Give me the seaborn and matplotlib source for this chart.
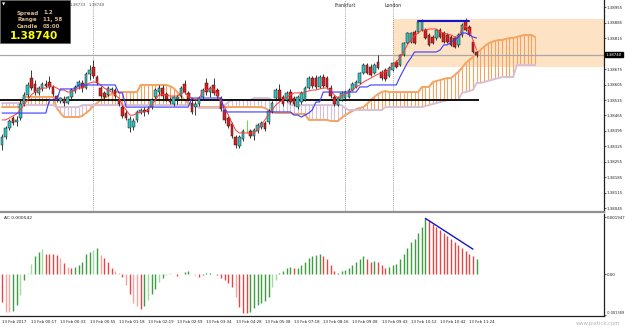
import numpy as np
import pandas as pd
import matplotlib
matplotlib.use("Agg")
import matplotlib.pyplot as plt
import matplotlib.transforms as mtransforms
from matplotlib.patches import Rectangle
import seaborn as sns

# ---------------- data ----------------
open_ = [1.38332,1.38368,1.38408,1.38454,1.38436,1.38454,1.38517,1.38558,1.38634,1.38607,
         1.38567,1.38585,1.38607,1.38616,1.38594,1.38553,1.38530,1.38540,1.38521,1.38549,
         1.38576,1.38594,1.38612,1.38589,1.38652,1.38684,1.38639,1.38589,1.38567,1.38558,
         1.38580,1.38580,1.38535,1.38503,1.38476,1.38408,1.38413,1.38445,1.38476,1.38490,
         1.38494,1.38503,1.38549,1.38571,1.38589,1.38562,1.38535,1.38517,1.38540,1.38553,
         1.38607,1.38567,1.38521,1.38503,1.38517,1.38549,1.38612,1.38571,1.38603,1.38580,
         1.38544,1.38490,1.38454,1.38427,1.38368,1.38327,1.38359,1.38417,1.38395,1.38372,
         1.38395,1.38413,1.38431,1.38436,1.38481,1.38544,1.38580,1.38549,1.38535,1.38571,
         1.38544,1.38503,1.38526,1.38535,1.38589,1.38634,1.38634,1.38594,1.38639,1.38634,
         1.38589,1.38549,1.38512,1.38535,1.38544,1.38549,1.38580,1.38594,1.38612,1.38657,
         1.38693,1.38684,1.38657,1.38707,1.38662,1.38671,1.38643,1.38671,1.38707,1.38693,
         1.38738,1.38793,1.38797,1.38842,1.38842,1.38851,1.38851,1.38829,1.38820,1.38815,
         1.38851,1.38838,1.38829,1.38820,1.38815,1.38784,1.38829,1.38892,1.38865,1.38797,
         1.38752]
high = [1.38381,1.38417,1.38449,1.38463,1.38463,1.38535,1.38571,1.38616,1.38671,1.38625,
        1.38598,1.38616,1.38625,1.38643,1.38603,1.38558,1.38549,1.38553,1.38553,1.38589,
        1.38603,1.38625,1.38625,1.38662,1.38693,1.38716,1.38648,1.38598,1.38576,1.38598,
        1.38594,1.38589,1.38544,1.38512,1.38490,1.38463,1.38454,1.38490,1.38499,1.38503,
        1.38508,1.38544,1.38589,1.38603,1.38603,1.38571,1.38549,1.38553,1.38558,1.38598,
        1.38625,1.38576,1.38535,1.38530,1.38553,1.38589,1.38634,1.38598,1.38634,1.38589,
        1.38553,1.38499,1.38463,1.38436,1.38377,1.38377,1.38404,1.38445,1.38404,1.38408,
        1.38431,1.38440,1.38440,1.38494,1.38530,1.38589,1.38607,1.38558,1.38576,1.38585,
        1.38553,1.38558,1.38576,1.38598,1.38643,1.38643,1.38648,1.38648,1.38652,1.38643,
        1.38603,1.38558,1.38553,1.38576,1.38580,1.38589,1.38616,1.38625,1.38662,1.38702,
        1.38702,1.38698,1.38702,1.38738,1.38671,1.38680,1.38689,1.38707,1.38716,1.38743,
        1.38797,1.38842,1.38842,1.38851,1.38892,1.38901,1.38860,1.38838,1.38829,1.38856,
        1.38860,1.38847,1.38838,1.38829,1.38824,1.38838,1.38883,1.38906,1.38874,1.38806,
        1.38756]
low = [1.38309,1.38359,1.38399,1.38422,1.38417,1.38445,1.38508,1.38549,1.38580,1.38558,
       1.38558,1.38576,1.38589,1.38585,1.38553,1.38526,1.38521,1.38508,1.38517,1.38540,
       1.38567,1.38585,1.38571,1.38585,1.38625,1.38634,1.38603,1.38544,1.38540,1.38553,
       1.38571,1.38544,1.38508,1.38454,1.38445,1.38390,1.38399,1.38436,1.38472,1.38463,
       1.38472,1.38494,1.38540,1.38558,1.38540,1.38530,1.38517,1.38508,1.38517,1.38544,
       1.38562,1.38530,1.38472,1.38467,1.38508,1.38540,1.38558,1.38549,1.38558,1.38544,
       1.38485,1.38431,1.38408,1.38363,1.38318,1.38318,1.38350,1.38386,1.38363,1.38354,
       1.38386,1.38404,1.38395,1.38427,1.38476,1.38540,1.38530,1.38508,1.38526,1.38517,
       1.38508,1.38494,1.38517,1.38530,1.38585,1.38589,1.38585,1.38589,1.38589,1.38585,
       1.38544,1.38508,1.38508,1.38530,1.38540,1.38544,1.38576,1.38589,1.38607,1.38652,
       1.38652,1.38643,1.38652,1.38675,1.38625,1.38621,1.38639,1.38666,1.38680,1.38689,
       1.38734,1.38788,1.38793,1.38788,1.38838,1.38847,1.38811,1.38779,1.38788,1.38806,
       1.38815,1.38793,1.38793,1.38779,1.38770,1.38775,1.38820,1.38847,1.38824,1.38747,
       1.38729]
close = [1.38368,1.38408,1.38440,1.38431,1.38445,1.38517,1.38558,1.38603,1.38589,1.38571,
         1.38589,1.38607,1.38598,1.38594,1.38562,1.38535,1.38544,1.38521,1.38549,1.38580,
         1.38594,1.38616,1.38589,1.38652,1.38671,1.38643,1.38612,1.38553,1.38549,1.38589,
         1.38585,1.38553,1.38517,1.38463,1.38454,1.38449,1.38440,1.38481,1.38490,1.38481,
         1.38481,1.38535,1.38580,1.38589,1.38553,1.38540,1.38526,1.38549,1.38549,1.38589,
         1.38571,1.38540,1.38481,1.38517,1.38544,1.38580,1.38571,1.38589,1.38567,1.38553,
         1.38494,1.38445,1.38417,1.38372,1.38332,1.38368,1.38395,1.38417,1.38372,1.38399,
         1.38422,1.38431,1.38404,1.38485,1.38521,1.38580,1.38540,1.38517,1.38567,1.38526,
         1.38517,1.38549,1.38567,1.38589,1.38634,1.38598,1.38594,1.38639,1.38598,1.38594,
         1.38553,1.38517,1.38544,1.38567,1.38571,1.38580,1.38607,1.38616,1.38657,1.38693,
         1.38657,1.38648,1.38693,1.38680,1.38634,1.38630,1.38680,1.38702,1.38684,1.38738,
         1.38793,1.38838,1.38838,1.38793,1.38888,1.38892,1.38815,1.38784,1.38793,1.38851,
         1.38820,1.38797,1.38797,1.38784,1.38775,1.38829,1.38874,1.38851,1.38833,1.38752,
         1.38740]

tenkan = [1.38445,1.38445,1.38454,1.38463,1.38472,1.38490,1.38512,1.38535,1.38558,1.38571,
          1.38580,1.38589,1.38589,1.38598,1.38598,1.38589,1.38580,1.38580,1.38571,1.38571,
          1.38580,1.38589,1.38589,1.38603,1.38612,1.38616,1.38616,1.38603,1.38589,1.38580,
          1.38571,1.38558,1.38544,1.38512,1.38490,1.38467,1.38467,1.38476,1.38481,1.38481,
          1.38490,1.38512,1.38535,1.38558,1.38558,1.38558,1.38553,1.38553,1.38553,1.38562,
          1.38571,1.38553,1.38544,1.38535,1.38544,1.38571,1.38580,1.38585,1.38585,1.38558,
          1.38526,1.38503,1.38467,1.38431,1.38399,1.38386,1.38386,1.38386,1.38386,1.38386,
          1.38399,1.38422,1.38445,1.38467,1.38490,1.38512,1.38526,1.38535,1.38549,1.38558,
          1.38567,1.38567,1.38567,1.38571,1.38576,1.38580,1.38580,1.38585,1.38589,1.38589,
          1.38580,1.38558,1.38544,1.38553,1.38562,1.38567,1.38580,1.38594,1.38603,1.38616,
          1.38625,1.38634,1.38643,1.38652,1.38657,1.38662,1.38671,1.38693,1.38707,1.38725,
          1.38752,1.38784,1.38806,1.38824,1.38838,1.38851,1.38851,1.38856,1.38856,1.38856,
          1.38842,1.38838,1.38833,1.38829,1.38820,1.38815,1.38860,1.38870,1.38851,1.38806,
          1.38761]
kijun = [1.38476,1.38476,1.38476,1.38476,1.38476,1.38476,1.38476,1.38476,1.38476,1.38476,
         1.38476,1.38476,1.38476,1.38535,1.38535,1.38535,1.38585,1.38585,1.38585,1.38585,
         1.38585,1.38603,1.38603,1.38603,1.38603,1.38603,1.38603,1.38603,1.38603,1.38603,
         1.38603,1.38603,1.38567,1.38567,1.38503,1.38503,1.38503,1.38503,1.38503,1.38503,
         1.38503,1.38503,1.38503,1.38503,1.38503,1.38503,1.38503,1.38503,1.38503,1.38503,
         1.38503,1.38503,1.38544,1.38544,1.38544,1.38544,1.38544,1.38544,1.38544,1.38544,
         1.38544,1.38481,1.38481,1.38481,1.38481,1.38481,1.38481,1.38481,1.38481,1.38481,
         1.38481,1.38481,1.38481,1.38481,1.38481,1.38481,1.38481,1.38481,1.38481,1.38481,
         1.38467,1.38467,1.38458,1.38467,1.38476,1.38490,1.38526,1.38526,1.38571,1.38571,
         1.38571,1.38571,1.38571,1.38571,1.38571,1.38571,1.38571,1.38571,1.38594,1.38594,
         1.38594,1.38603,1.38603,1.38603,1.38603,1.38603,1.38603,1.38603,1.38603,1.38639,
         1.38671,1.38702,1.38725,1.38752,1.38752,1.38752,1.38752,1.38752,1.38752,1.38752,
         1.38761,1.38784,1.38784,1.38797,1.38806,1.38820,1.38838,1.38838,1.38829,1.38820,
         1.38815]
span_a = [1.38503,1.38503,1.38503,1.38503,1.38503,1.38503,1.38549,1.38549,1.38549,1.38549,
          1.38549,1.38549,1.38549,1.38549,1.38549,1.38499,1.38476,1.38458,1.38458,1.38458,
          1.38458,1.38458,1.38463,1.38476,1.38490,1.38508,1.38521,1.38535,1.38544,1.38553,
          1.38562,1.38571,1.38571,1.38571,1.38571,1.38571,1.38571,1.38571,1.38603,1.38603,
          1.38603,1.38603,1.38603,1.38603,1.38603,1.38603,1.38598,1.38589,1.38571,1.38553,
          1.38535,1.38521,1.38517,1.38512,1.38503,1.38503,1.38503,1.38503,1.38503,1.38503,
          1.38503,1.38503,1.38503,1.38503,1.38503,1.38503,1.38503,1.38503,1.38503,1.38503,
          1.38503,1.38503,1.38499,1.38490,1.38481,1.38476,1.38476,1.38476,1.38476,1.38476,
          1.38472,1.38472,1.38472,1.38472,1.38445,1.38445,1.38445,1.38445,1.38445,1.38445,
          1.38440,1.38440,1.38440,1.38454,1.38467,1.38476,1.38485,1.38494,1.38499,1.38503,
          1.38517,1.38535,1.38549,1.38562,1.38571,1.38576,1.38571,1.38571,1.38571,1.38571,
          1.38571,1.38571,1.38571,1.38571,1.38571,1.38594,1.38594,1.38594,1.38616,1.38621,
          1.38625,1.38630,1.38634,1.38634,1.38648,1.38662,1.38680,1.38702,1.38716,1.38729,
          1.38747,1.38761,1.38775,1.38788,1.38797,1.38802,1.38806,1.38806,1.38811,1.38815,
          1.38815,1.38820,1.38824,1.38829,1.38829,1.38829,1.38820]
span_b = [1.38521,1.38521,1.38521,1.38521,1.38521,1.38521,1.38512,1.38512,1.38512,1.38512,
          1.38512,1.38512,1.38512,1.38512,1.38512,1.38503,1.38503,1.38503,1.38503,1.38503,
          1.38503,1.38503,1.38512,1.38512,1.38512,1.38512,1.38512,1.38512,1.38512,1.38512,
          1.38512,1.38512,1.38512,1.38512,1.38512,1.38512,1.38512,1.38512,1.38512,1.38512,
          1.38512,1.38512,1.38512,1.38512,1.38512,1.38512,1.38512,1.38512,1.38512,1.38512,
          1.38512,1.38512,1.38512,1.38512,1.38499,1.38499,1.38499,1.38499,1.38499,1.38499,
          1.38499,1.38512,1.38526,1.38535,1.38535,1.38535,1.38535,1.38535,1.38535,1.38544,
          1.38544,1.38544,1.38544,1.38544,1.38535,1.38535,1.38535,1.38535,1.38535,1.38512,
          1.38512,1.38512,1.38512,1.38512,1.38512,1.38512,1.38512,1.38512,1.38512,1.38512,
          1.38512,1.38512,1.38512,1.38512,1.38499,1.38490,1.38490,1.38490,1.38490,1.38490,
          1.38490,1.38490,1.38490,1.38490,1.38490,1.38503,1.38503,1.38503,1.38503,1.38503,
          1.38503,1.38503,1.38503,1.38503,1.38503,1.38503,1.38508,1.38512,1.38517,1.38521,
          1.38526,1.38530,1.38535,1.38535,1.38535,1.38535,1.38567,1.38571,1.38576,1.38580,
          1.38612,1.38612,1.38616,1.38621,1.38625,1.38630,1.38634,1.38639,1.38639,1.38639,
          1.38639,1.38693,1.38693,1.38693,1.38693,1.38693,1.38693]

ac_values = [-0.00095,-0.00129,-0.00131,-0.00127,-0.00106,-0.00072,-0.00021,0.00003,0.00033,0.00062,
             0.00076,0.00084,0.00067,0.00067,0.00067,0.00065,0.00054,0.00036,0.00025,0.00019,
             0.00025,0.00030,0.00042,0.00067,0.00075,0.00082,0.00088,0.00065,0.00054,0.00042,
             0.00022,0.00010,0.00002,-0.00010,-0.00038,-0.00070,-0.00100,-0.00110,-0.00119,-0.00110,
             -0.00089,-0.00067,-0.00050,-0.00026,-0.00013,-0.00003,0.00002,-0.00001,-0.00006,0.00001,
             0.00008,0.00010,-0.00001,-0.00003,-0.00009,-0.00005,0.00003,0.00005,0.00001,-0.00005,
             -0.00012,-0.00020,-0.00030,-0.00044,-0.00079,-0.00113,-0.00133,-0.00133,-0.00130,-0.00116,
             -0.00106,-0.00100,-0.00094,-0.00079,-0.00044,-0.00020,0.00002,0.00010,0.00020,0.00025,
             0.00020,0.00020,0.00030,0.00040,0.00055,0.00060,0.00065,0.00070,0.00060,0.00050,
             0.00030,0.00010,0.00005,0.00010,0.00015,0.00020,0.00030,0.00040,0.00050,0.00060,
             0.00050,0.00040,0.00045,0.00040,0.00030,0.00020,0.00025,0.00030,0.00035,0.00050,
             0.00070,0.00090,0.00110,0.00120,0.00140,0.00160,0.00190,0.00180,0.00170,0.00160,
             0.00150,0.00140,0.00130,0.00120,0.00110,0.00100,0.00090,0.00080,0.00070,0.00060,
             0.00050]
ac_shade = ['r','lr','lr','g','g','lg','g','lg','lg','g',
            'g','lg','r','r','r','r','lr','r','lr','r',
            'g','g','g','g','g','lg','g','lr','r','r',
            'r','lr','lr','r','lr','r','lr','lr','r','g',
            'lg','g','g','lg','g','lg','lg','lr','r','g',
            'g','g','lr','lr','r','g','g','g','r','r',
            'r','r','r','r','lr','r','r','r','g','g',
            'g','g','g','g','lg','lg','g','g','g','g',
            'r','g','g','g','g','g','g','g','r','r',
            'r','r','g','g','g','g','g','g','g','g',
            'r','r','g','r','r','r','g','g','g','g',
            'g','g','g','g','g','g','g','r','r','r',
            'r','r','r','r','r','r','r','r','r','r',
            'g']

time_label_bars = [0, 8, 16, 24, 32, 40, 48, 56, 64, 72, 80, 88, 96, 104, 112, 120, 128]
time_labels = ["13 Feb 2017", "13 Feb 00:17", "13 Feb 00:33", "13 Feb 00:55", "13 Feb 01:18",
               "13 Feb 02:19", "13 Feb 02:59", "13 Feb 03:34", "13 Feb 04:28", "13 Feb 05:38",
               "13 Feb 07:18", "13 Feb 08:16", "13 Feb 09:08", "13 Feb 09:43", "13 Feb 10:12",
               "13 Feb 10:42", "13 Feb 11:24"]
price_ticks = [1.38955, 1.38885, 1.38815, 1.38675, 1.38605, 1.38535, 1.38465,
               1.38395, 1.38325, 1.38255, 1.38185, 1.38115, 1.38045]
ac_ticks = [0.001947, 0.0, -0.001389]
ac_tick_labels = ["0.001947", "0.00", "-0.001389"]

session_bars = [25, 94, 107]
session_names = ["", "Frankfurt", "London"]
last_price = 1.38740
support_price = 1.38535
zone_start_bar = 107
zone_top, zone_bottom = 1.38901, 1.38684
top_trend_bars = [114, 128]
top_trend_prices = [1.38890, 1.38890]
ac_trend_bars = [116, 129]
ac_trend_values = [0.00190, 0.00085]

# ---------------- style ----------------
sns.set_theme(style="white")
plt.rcParams['font.family'] = ['DejaVu Sans']

W, H = 625, 328
fig = plt.figure(figsize=(W / 100, H / 100), dpi=100)
fig.patch.set_facecolor('white')

def fy(py):
    return 1 - py / H

ax = fig.add_axes([0, fy(212), 604 / W, 212 / H])
ax2 = fig.add_axes([0, fy(316), 604 / W, 102 / H])

XMIN, XMAX = -0.55, 164.9
for a in (ax, ax2):
    a.set_xlim(XMIN, XMAX)
    a.set_facecolor('white')
ax.set_ylim(1.380288, 1.38987)
ax2.set_ylim(-0.001436, 0.002052)

bars = np.arange(len(close))
o = np.array(open_); h = np.array(high); l = np.array(low); c = np.array(close)

# orange zone
ax.add_patch(Rectangle((zone_start_bar, zone_bottom), XMAX - zone_start_bar + 1, zone_top - zone_bottom,
                       facecolor='#fde2c4', edgecolor='none', zorder=0))

# ichimoku cloud hatch
cb = np.arange(len(span_a))
sa = np.array(span_a); sb = np.array(span_b)
hatch_cols = np.where(sa >= sb, '#f4a460', '#d8bfd8')
ax.vlines(cb, sa, sb, colors=hatch_cols, lw=0.8, zorder=1)
cloud_df = pd.DataFrame({'bar': cb, 'a': sa, 'b': sb})
sns.lineplot(data=cloud_df, x='bar', y='a', color='#f4a460', lw=1.4, ax=ax, zorder=2, legend=False)
sns.lineplot(data=cloud_df, x='bar', y='b', color='#d8bfd8', lw=1.4, ax=ax, zorder=2, legend=False)

# horizontal lines
ax.axhline(last_price, color='#a8a8a8', lw=0.9, zorder=1.5)
ax.hlines(support_price, XMIN, bars[-1] + 0.6, color='black', lw=1.3, zorder=2.5)

# vertical session lines
for b, name in zip(session_bars, session_names):
    ax.axvline(b, color='#808080', lw=0.6, ls=(0, (1, 1.5)), zorder=1)
    if name:
        ax.text(b, 1.38960, name, fontsize=3.4, ha='center', va='center', color='#303030')
ax.text(18.6, 1.38965, "1.38733", fontsize=2.8, ha='left', va='center', color='#505050')
ax.text(23.6, 1.38965, "1.38740", fontsize=2.8, ha='left', va='center', color='#505050')

# candles
wick = '#1a1a1a'
dojis = o == c
ax.vlines(bars[~dojis], l[~dojis], h[~dojis], color=wick, lw=0.6, zorder=3)
ax.vlines(bars[dojis], l[dojis], h[dojis], color='#66dd44', lw=0.8, zorder=3)
bull = (c > o)
bear = (c < o)
ax.bar(bars[bull], (c - o)[bull], bottom=o[bull], width=0.72, color='#2ec4c0',
       edgecolor=wick, linewidth=0.35, zorder=3.2)
ax.bar(bars[bear], (o - c)[bear], bottom=c[bear], width=0.72, color='#e21c1c',
       edgecolor=wick, linewidth=0.35, zorder=3.2)

# tenkan / kijun
tk = pd.DataFrame({'bar': bars, 'tenkan': tenkan, 'kijun': kijun})
sns.lineplot(data=tk, x='bar', y='tenkan', color='#ff3a3a', lw=0.7, ax=ax, zorder=4, legend=False)
sns.lineplot(data=tk, x='bar', y='kijun', color='#3a3aff', lw=0.8, ax=ax, zorder=4, legend=False)

# top trend line
ax.plot(top_trend_bars, top_trend_prices, color='#1515c8', lw=1.5, zorder=5)

# AC bars
shade_map = {'g': '#3d9e3d', 'lg': '#a3d9a3', 'r': '#e94444', 'lr': '#f5a3a3'}
ax2.vlines(bars, 0, ac_values, colors=[shade_map[s] for s in ac_shade], lw=1.0)
ax2.plot(ac_trend_bars, ac_trend_values, color='#1515c8', lw=1.0, zorder=5)
ax2.text(0.5, 0.0019, "AC 0.000542", fontsize=3.2, ha='left', va='center', color='#202020')

# axes cosmetics
for a in (ax, ax2):
    a.yaxis.tick_right()
    a.tick_params(axis='y', direction='out', length=1.5, width=0.5, pad=0.6, labelsize=2.8,
                  colors='#202020')
    for s in ('left', 'top'):
        a.spines[s].set_visible(False)
    a.spines['right'].set_color('#202020'); a.spines['right'].set_linewidth(0.9)
    a.grid(False)
ax.spines['bottom'].set_color('#909090'); ax.spines['bottom'].set_linewidth(1.6)
ax2.spines['bottom'].set_color('#202020'); ax2.spines['bottom'].set_linewidth(0.9)

ax.set_yticks(price_ticks)
ax.set_yticklabels([f"{p:.5f}" for p in price_ticks])
ax.set_xticks([])
ax.set_xlabel(''); ax.set_ylabel('')
ax2.set_yticks(ac_ticks)
ax2.set_yticklabels(ac_tick_labels)
for t in ax2.get_yticklabels():
    if t.get_text().startswith('-'):
        t.set_fontsize(2.5)
        t.set_verticalalignment('bottom')
ax2.set_xticks(time_label_bars)
ax2.set_xticklabels(time_labels, ha='left', fontsize=2.75, color='#202020')
ax2.tick_params(axis='x', direction='out', length=1.5, width=0.5, pad=1.2)
ax2.set_xlabel(''); ax2.set_ylabel('')

# last price box on axis
trans = mtransforms.blended_transform_factory(ax.transAxes, ax.transData)
ax.text(1.003, last_price, "1.38740", transform=trans, fontsize=2.8, color='white',
        ha='left', va='center', bbox=dict(boxstyle='square,pad=0.2', fc='black', ec='black'),
        zorder=10, clip_on=False)

# info box top-left
fig.patches.append(Rectangle((0, fy(43)), 70 / W, 43 / H, transform=fig.transFigure,
                             facecolor='black', edgecolor='#555555', lw=0.5, zorder=20))
info_col = '#d8b98e'
for lab, val, py in [("Spread", "1.2", 13), ("Range", "11, 58", 20), ("Candle", "03:00", 27)]:
    fig.text(17 / W, fy(py), lab, fontsize=4.0, color=info_col, weight='bold', va='center', zorder=21)
    fig.text(43 / W, fy(py), val, fontsize=4.0, color=info_col, weight='bold', va='center', zorder=21)
fig.text(34 / W, fy(36), "1.38740", fontsize=7.6, color='#ffff00', weight='bold',
         ha='center', va='center', zorder=21)
fig.text(4 / W, fy(4), "\u25BC", fontsize=3, color='white', ha='center', va='center', zorder=21)

fig.text(620 / W, fy(323), "www.pixtick.com", fontsize=3.8, color='#b5b5b5', ha='right', va='center')

fig.savefig("out.png", dpi=100, facecolor='white')
